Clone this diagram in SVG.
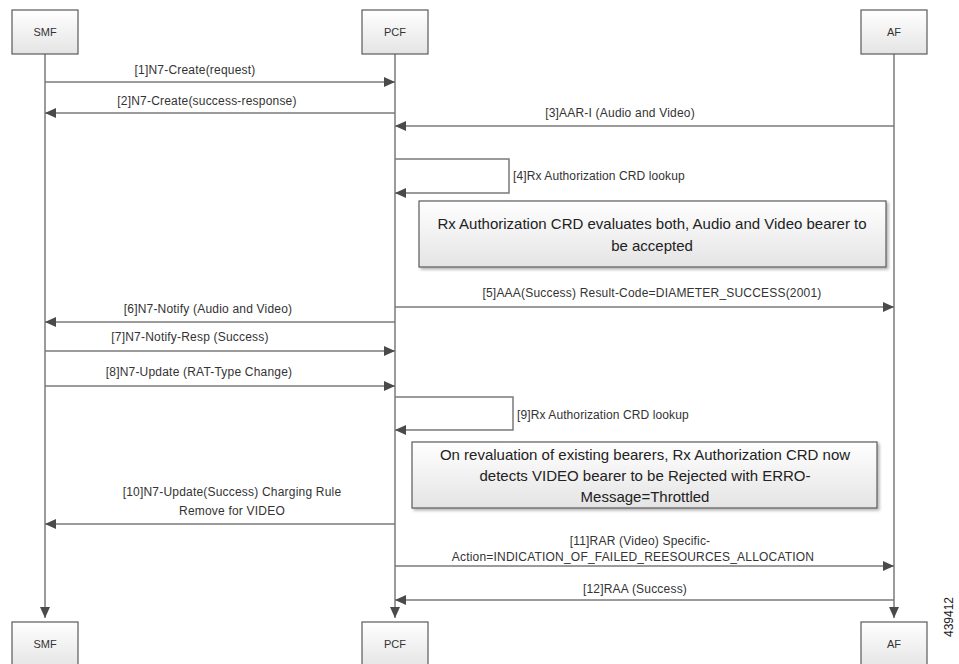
<svg xmlns="http://www.w3.org/2000/svg" width="959" height="664" viewBox="0 0 959 664">
<defs>
<linearGradient id="g" x1="0" y1="0" x2="0" y2="1">
<stop offset="0" stop-color="#ffffff"/>
<stop offset="1" stop-color="#e4e4e4"/>
</linearGradient>
<marker id="ah" markerUnits="userSpaceOnUse" markerWidth="12" markerHeight="10" refX="11" refY="5" orient="auto">
<path d="M0,0 L11,5 L0,10 z" fill="#4a4a4a"/>
</marker>
<filter id="sh" x="-5%" y="-5%" width="112%" height="125%">
<feGaussianBlur in="SourceAlpha" stdDeviation="1.5"/>
<feOffset dx="2" dy="2" result="b"/>
<feComponentTransfer><feFuncA type="linear" slope="0.3"/></feComponentTransfer>
<feMerge><feMergeNode/><feMergeNode in="SourceGraphic"/></feMerge>
</filter>
</defs>
<style>
.box{fill:url(#g);stroke:#5a5a5a;stroke-width:1.2}
.ln{fill:none;stroke:#7a7a7a;stroke-width:1.5}
.ar{fill:none;stroke:#7a7a7a;stroke-width:1.5;marker-end:url(#ah)}
.t{font-family:"Liberation Sans",Arial,sans-serif;font-size:12px;letter-spacing:0.2px;fill:#333;text-anchor:middle}
.l{font-family:"Liberation Sans",Arial,sans-serif;font-size:12px;letter-spacing:0.1px;fill:#333}
.n{font-family:"Liberation Sans",Arial,sans-serif;font-size:15px;fill:#222;text-anchor:middle}
.h{font-family:"Liberation Sans",Arial,sans-serif;font-size:11px;fill:#333;text-anchor:middle}
</style>
<rect width="959" height="664" fill="#ffffff"/>
<g id="connectors">
<path class="ar" d="M45,54 V618"/>
<path class="ar" d="M395,54 V618"/>
<path class="ar" d="M894,54 V618"/>
<path class="ar" d="M45,82 H395"/>
<path class="ar" d="M395,113 H45"/>
<path class="ar" d="M894,126 H395"/>
<path class="ar" d="M395,159 H509 V193 H395"/>
<path class="ar" d="M395,307 H894"/>
<path class="ar" d="M395,322 H45"/>
<path class="ar" d="M45,351 H395"/>
<path class="ar" d="M45,386 H395"/>
<path class="ar" d="M395,397 H513 V430 H395"/>
<path class="ar" d="M395,524 H45"/>
<path class="ar" d="M395,566 H894"/>
<path class="ar" d="M894,600 H395"/>
<text class="t" x="195" y="74">[1]N7-Create(request)</text>
<text class="t" x="207" y="105">[2]N7-Create(success-response)</text>
<text class="t" x="620" y="117">[3]AAR-I (Audio and Video)</text>
<text class="l" x="513" y="180">[4]Rx Authorization CRD lookup</text>
<text class="t" x="652" y="297">[5]AAA(Success) Result-Code=DIAMETER_SUCCESS(2001)</text>
<text class="t" x="208" y="313">[6]N7-Notify (Audio and Video)</text>
<text class="t" x="190" y="341">[7]N7-Notify-Resp (Success)</text>
<text class="t" x="199" y="376">[8]N7-Update (RAT-Type Change)</text>
<text class="l" x="517" y="419">[9]Rx Authorization CRD lookup</text>
<text class="t" x="232" y="496">[10]N7-Update(Success) Charging Rule</text>
<text class="t" x="232" y="515">Remove for VIDEO</text>
<text class="t" x="640" y="545">[11]RAR (Video) Specific-</text>
<text class="t" x="633" y="561">Action=INDICATION_OF_FAILED_REESOURCES_ALLOCATION</text>
<text class="t" x="635" y="593">[12]RAA (Success)</text>
</g>
<g id="smf-top"><rect class="box" x="12" y="10" width="66" height="44"/><text class="h" x="45" y="36">SMF</text></g>
<g id="pcf-top"><rect class="box" x="362" y="10" width="66" height="44"/><text class="h" x="395" y="36">PCF</text></g>
<g id="af-top"><rect class="box" x="861" y="10" width="66" height="44"/><text class="h" x="894" y="36">AF</text></g>
<g id="note1"><rect class="box" x="419" y="201" width="467" height="66" filter="url(#sh)"/>
<text class="n" x="652" y="229">Rx Authorization CRD evaluates both, Audio and Video bearer to</text>
<text class="n" x="652" y="251">be accepted</text></g>
<g id="note2"><rect class="box" x="412" y="442" width="465" height="66" filter="url(#sh)"/>
<text class="n" x="645" y="460">On revaluation of existing bearers, Rx Authorization CRD now</text>
<text class="n" x="645" y="481">detects VIDEO bearer to be Rejected with ERRO-</text>
<text class="n" x="645" y="502">Message=Throttled</text></g>
<g id="smf-bottom"><rect class="box" x="12" y="622" width="66" height="46"/><text class="h" x="45" y="648">SMF</text></g>
<g id="pcf-bottom"><rect class="box" x="362" y="622" width="66" height="46"/><text class="h" x="395" y="648">PCF</text></g>
<g id="af-bottom"><rect class="box" x="861" y="622" width="66" height="46"/><text class="h" x="894" y="648">AF</text></g>
<text x="949" y="617" transform="rotate(-90 949 617)" font-family="Liberation Sans, Arial, sans-serif" font-size="12" fill="#222" text-anchor="middle" dominant-baseline="central">439412</text>
</svg>
